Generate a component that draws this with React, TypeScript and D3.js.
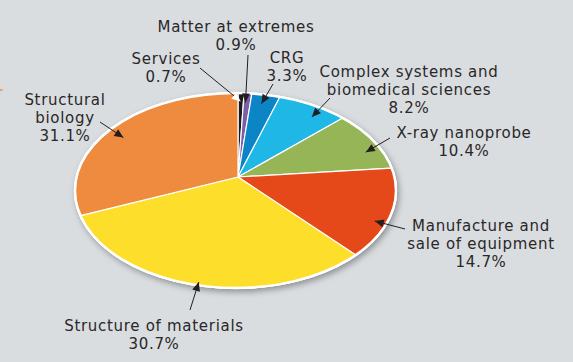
import React from "react";
import * as d3 from "d3";

// shares of the budget, clockwise from 12 o'clock
const categories = [
  "Services",
  "Matter at extremes",
  "CRG",
  "Complex systems and biomedical sciences",
  "X-ray nanoprobe",
  "Manufacture and sale of equipment",
  "Structure of materials",
  "Structural biology",
];
const shares = [0.7, 0.9, 3.3, 8.2, 10.4, 14.7, 30.7, 31.1];
const labelLines = [
  ["Services"],
  ["Matter at extremes"],
  ["CRG"],
  ["Complex systems and", "biomedical sciences"],
  ["X-ray nanoprobe"],
  ["Manufacture and", "sale of equipment"],
  ["Structure of materials"],
  ["Structural", "biology"],
];
const sliceColors = [
  "#1c1a1b",
  "#7b5ea7",
  "#0b85c6",
  "#1fb7e6",
  "#95b556",
  "#e54819",
  "#fddf2b",
  "#ee8b3e",
];

// label layout: text centre x, first baseline y, arrow tail, where the tip sits in the slice
const labelLayout = [
  { x: 166, y: 64, tail: [200, 68], t: 0.5, f: 0.9, headFill: "#ffffff" },
  { x: 236, y: 32, tail: [248, 55], t: 0.3, f: 0.89, headFill: "#231f20" },
  { x: 287, y: 63, tail: [273, 84], t: 0.44, f: 0.89, headFill: "#231f20" },
  { x: 409, y: 77, tail: [330, 98], t: 0.65, f: 0.875, headFill: "#231f20" },
  { x: 464, y: 138, tail: [390, 138], t: 0.67, f: 0.894, headFill: "#231f20" },
  { x: 481, y: 231, tail: [405, 229], t: 0.63, f: 0.925, headFill: "#231f20" },
  { x: 154, y: 331, tail: [190, 310], t: 0.5, f: 0.97, headFill: "#231f20" },
  { x: 65, y: 105, tail: [100, 122], t: 0.46, f: 0.876, headFill: "#231f20" },
];

const W = 573;
const H = 362;
const cx = 235.5;
const cy = 190.5;
const rx = 160.5;
const ry = 97.5;
// tilted disc: the apex sits above the ellipse centre
const ax = 238;
const ay = 177;
const lineGap = 18;

function rimPoint(theta: number, f = 1): [number, number] {
  const dx = rx * Math.sin(theta);
  const dy = -ry * Math.cos(theta);
  const ox = ax - cx;
  const oy = ay - cy;
  const A = (dx / rx) ** 2 + (dy / ry) ** 2;
  const B = 2 * ((ox * dx) / (rx * rx) + (oy * dy) / (ry * ry));
  const C = (ox / rx) ** 2 + (oy / ry) ** 2 - 1;
  const s = (-B + Math.sqrt(B * B - 4 * A * C)) / (2 * A);
  return [ax + dx * s * f, ay + dy * s * f];
}

export default function App() {
  const pie = d3
    .pie<number>()
    .sort(null)
    .value((d) => d);
  const arcs = pie(shares);
  const line = d3.line();

  const slicePath = (a0: number, a1: number) => {
    const n = Math.max(2, Math.ceil(((a1 - a0) * 180) / Math.PI));
    const pts: [number, number][] = [[ax, ay]];
    for (let i = 0; i <= n; i++) pts.push(rimPoint(a0 + ((a1 - a0) * i) / n));
    return line(pts) + "Z";
  };

  const arrowHead = (tail: number[], tip: [number, number]) => {
    const ang = Math.atan2(tip[1] - tail[1], tip[0] - tail[0]);
    const len = 9;
    const hw = 4;
    const bx = tip[0] - len * Math.cos(ang);
    const by = tip[1] - len * Math.sin(ang);
    const px = -Math.sin(ang) * hw;
    const py = Math.cos(ang) * hw;
    return `M${tip[0]},${tip[1]}L${bx + px},${by + py}L${bx - px},${by - py}Z`;
  };

  return (
    <svg
      width={W}
      height={H}
      style={{ position: "absolute", left: 0, top: 0 }}
      fontFamily="'DejaVu Sans', sans-serif"
    >
      <defs>
        <filter id="shadow" x="-20%" y="-20%" width="140%" height="140%">
          <feDropShadow dx="2" dy="3" stdDeviation="3" floodColor="#000" floodOpacity="0.35" />
        </filter>
      </defs>
      <rect width={W} height={H} fill="#d9dde0" />
      <line x1={0} x2={2.5} y1={90} y2={90} stroke="#ee8b3e" strokeWidth={1.5} />

      <ellipse cx={cx} cy={cy} rx={rx + 1} ry={ry + 1} fill="#ffffff" filter="url(#shadow)" />
      {arcs.map((a, i) => (
        <path
          key={categories[i]}
          d={slicePath(a.startAngle, a.endAngle)}
          fill={sliceColors[i]}
          stroke="#ffffff"
          strokeWidth={1.2}
          strokeLinejoin="round"
        />
      ))}
      <ellipse cx={cx} cy={cy} rx={rx} ry={ry} fill="none" stroke="#ffffff" strokeWidth={2.5} />

      {arcs.map((a, i) => {
        const lay = labelLayout[i];
        const tip = rimPoint(a.startAngle + (a.endAngle - a.startAngle) * lay.t, lay.f);
        const lines = [...labelLines[i], `${shares[i].toFixed(1)}%`];
        return (
          <g key={"lab" + i}>
            <line
              x1={lay.tail[0]}
              y1={lay.tail[1]}
              x2={tip[0]}
              y2={tip[1]}
              stroke="#231f20"
              strokeWidth={1}
            />
            <path d={arrowHead(lay.tail, tip)} fill={lay.headFill} />
            <text textAnchor="middle" fontSize={15} letterSpacing={0.7} fill="#2a2728">
              {lines.map((s, j) => (
                <tspan key={j} x={lay.x} y={lay.y + j * lineGap}>
                  {s}
                </tspan>
              ))}
            </text>
          </g>
        );
      })}
    </svg>
  );
}
